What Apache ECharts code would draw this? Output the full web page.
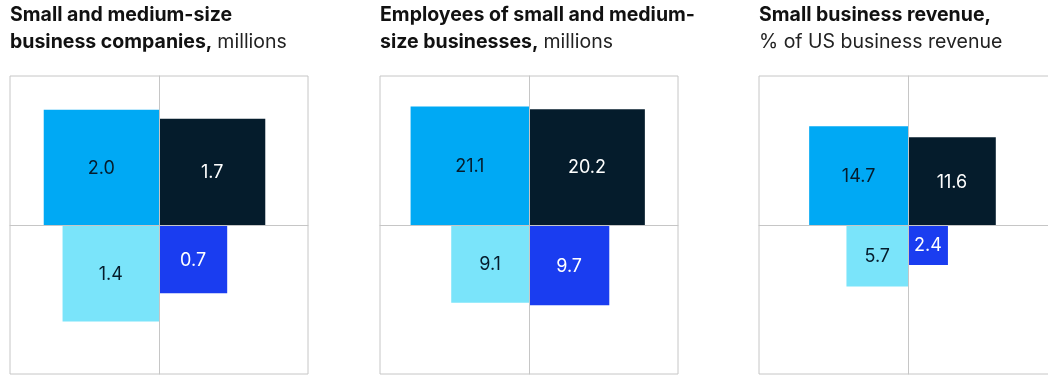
<!DOCTYPE html>
<html>
<head>
<meta charset="utf-8">
<script src="https://cdn.jsdelivr.net/npm/echarts@6/dist/echarts.min.js"></script>
<style>
  html, body { margin: 0; padding: 0; background: #fff; }
  #chart { width: 1048px; height: 375px; }
</style>
</head>
<body>
<div id="chart"></div>
<script>
// Values per panel, in quadrant order: upper left, upper right, lower left, lower right
const companies = [2.0, 1.7, 1.4, 0.7];
const employees = [21.1, 20.2, 9.1, 9.7];
const revenue = [14.7, 11.6, 5.7, 2.4];

const titlesBold = [
  ['Small and medium-size', 'business companies,'],
  ['Employees of small and medium-', 'size businesses,'],
  ['Small business revenue,', '']
];
const titlesUnit = ['millions', 'millions', '% of US business revenue'];

// Layout and styling
const panelValues = [companies, employees, revenue];
const quadrantSigns = [[-1, 1], [1, 1], [-1, -1], [1, -1]];
const quadrantColors = ['#00A9F4', '#051C2C', '#7AE4FA', '#1A3DF0'];
const labelColors = ['#051C2C', '#FFFFFF', '#051C2C', '#FFFFFF'];
const panelLeft = [10, 380, 759];
const PANEL_SIZE = 298;
const panelExtent = [1.828, 5.78, 5.78];   // half-width of each square box, in sqrt(value) units
const FONT = 'Inter, "Liberation Sans", Arial, sans-serif';
const GRID_LINE = '#C6C6C6';

const grids = [], xAxes = [], yAxes = [], series = [], titles = [];

panelValues.forEach((vals, i) => {
  // the last box runs past the right edge of the canvas, so no bounds clamping
  grids.push({
    left: panelLeft[i], top: 76, width: PANEL_SIZE, height: PANEL_SIZE,
    outerBoundsMode: 'none', containLabel: false,
    show: true, borderColor: GRID_LINE, borderWidth: 1, backgroundColor: 'transparent'
  });
  const axisCommon = {
    type: 'value', gridIndex: i,
    min: -panelExtent[i], max: panelExtent[i],
    z: 5,
    axisLine: { show: true, onZero: true, lineStyle: { color: GRID_LINE, width: 1 } },
    axisTick: { show: false }, axisLabel: { show: false }, splitLine: { show: false }
  };
  xAxes.push(Object.assign({}, axisCommon));
  yAxes.push(Object.assign({}, axisCommon));

  series.push({
    type: 'custom',
    xAxisIndex: i, yAxisIndex: i,
    z: 2,
    silent: true,
    clip: false,
    data: vals.map((v, q) => [quadrantSigns[q][0], quadrantSigns[q][1], v, q]),
    renderItem: function (params, api) {
      const sx = api.value(0), sy = api.value(1), v = api.value(2), q = api.value(3);
      const side = Math.sqrt(v);   // square area proportional to value
      const p0 = api.coord([0, 0]);
      const p1 = api.coord([sx * side, sy * side]);
      const x = Math.min(p0[0], p1[0]), y = Math.min(p0[1], p1[1]);
      const w = Math.abs(p1[0] - p0[0]), h = Math.abs(p1[1] - p0[1]);
      return {
        type: 'group',
        children: [
          { type: 'rect', shape: { x: x, y: y, width: w, height: h },
            style: { fill: quadrantColors[q] } },
          { type: 'text', x: x + w / 2, y: y + h / 2 + 1,
            style: { text: v.toFixed(1), fill: labelColors[q], font: '18px ' + FONT,
                     align: 'center', verticalAlign: 'middle' } }
        ]
      };
    }
  });

  const lines = titlesBold[i];
  const text = lines[1]
    ? '{b|' + lines[0] + '}\n{b|' + lines[1] + '} {r|' + titlesUnit[i] + '}'
    : '{b|' + lines[0] + '}\n{r|' + titlesUnit[i] + '}';
  titles.push({
    left: panelLeft[i], top: 2, padding: 0,
    text: text,
    textStyle: {
      rich: {
        b: { fontFamily: FONT, fontSize: 19.5, fontWeight: 'bold', color: '#111111', lineHeight: 26.5 },
        r: { fontFamily: FONT, fontSize: 19.5, fontWeight: 'normal', color: '#222222', lineHeight: 26.5 }
      }
    }
  });
});

const chart = echarts.init(document.getElementById('chart'), null, { renderer: 'canvas' });
chart.setOption({
  animation: false,
  backgroundColor: '#ffffff',
  title: titles,
  grid: grids,
  xAxis: xAxes,
  yAxis: yAxes,
  series: series
});
</script>
</body>
</html>
